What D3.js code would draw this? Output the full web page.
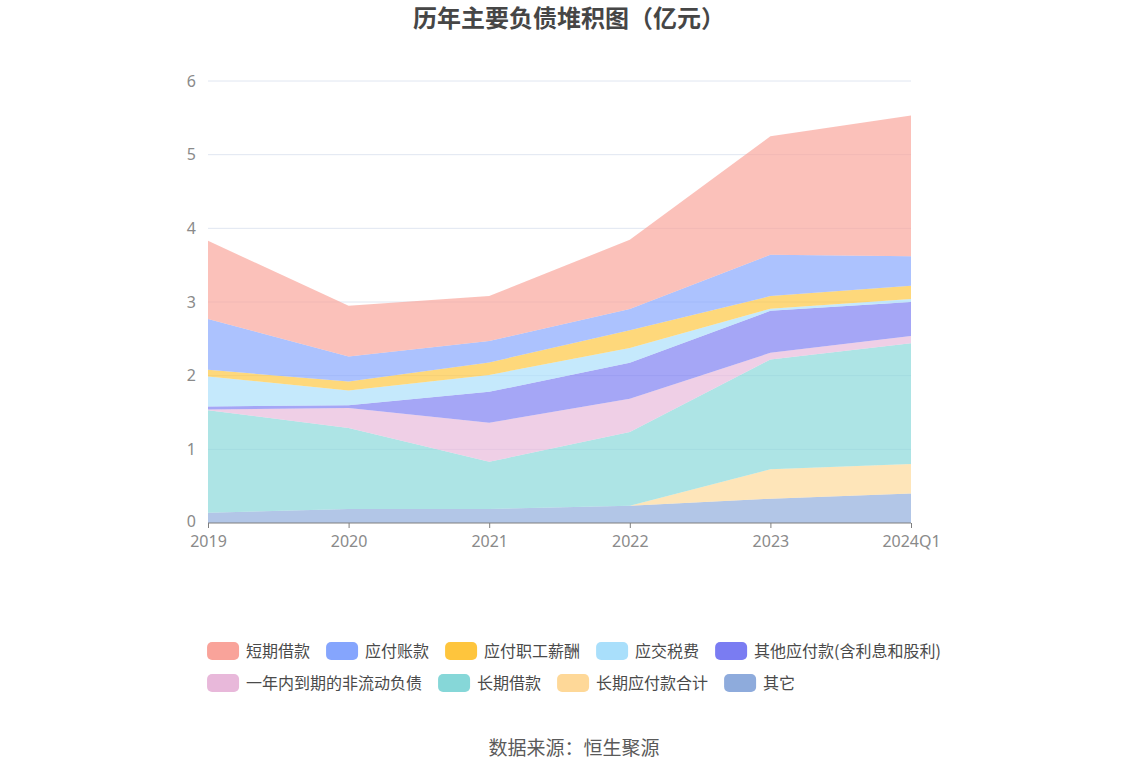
<!DOCTYPE html>
<html><head><meta charset="utf-8">
<script src="https://cdn.jsdelivr.net/npm/d3@7/dist/d3.min.js"></script>
<style>body{margin:0;background:#fff;font-family:"Noto Sans CJK SC","Noto Sans",sans-serif;}</style>
</head><body><svg id="c" width="1148" height="776"></svg>
<script>
const categories = ["2019","2020","2021","2022","2023","2024Q1"];
const seriesNames = ["其它","长期应付款合计","长期借款","一年内到期的非流动负债","其他应付款(含利息和股利)","应交税费","应付职工薪酬","应付账款","短期借款"];
const other        = [0.14, 0.19, 0.19, 0.235, 0.33, 0.40];
const ltPayable    = [0, 0, 0, 0, 0.40, 0.40];
const ltLoan       = [1.39, 1.10, 0.64, 1.00, 1.49, 1.64];
const currentNcl   = [0.01, 0.27, 0.53, 0.45, 0.09, 0.10];
const otherPayable = [0.04, 0.04, 0.42, 0.49, 0.57, 0.46];
const taxPayable   = [0.41, 0.20, 0.23, 0.20, 0.03, 0.04];
const staffPay     = [0.09, 0.12, 0.17, 0.24, 0.17, 0.18];
const acctPayable  = [0.69, 0.34, 0.29, 0.29, 0.56, 0.40];
const stLoan       = [1.06, 0.69, 0.61, 0.94, 1.61, 1.91];
const yTicks = [0,1,2,3,4,5,6];
const legendOrder = ["短期借款","应付账款","应付职工薪酬","应交税费","其他应付款(含利息和股利)","一年内到期的非流动负债","长期借款","长期应付款合计","其它"];
const colors = {"短期借款":"#f9a39a","应付账款":"#85a5fd","应付职工薪酬":"#fec53d","应交税费":"#a9dffb","其他应付款(含利息和股利)":"#7a7cf2","一年内到期的非流动负债":"#e8b8da","长期借款":"#86d7d8","长期应付款合计":"#fed898","其它":"#8eabdc"};

const valuesBySeries = [other, ltPayable, ltLoan, currentNcl, otherPayable, taxPayable, staffPay, acctPayable, stLoan];
const table = categories.map((c,i)=>{const r={cat:c}; seriesNames.forEach((s,j)=>r[s]=valuesBySeries[j][i]); return r;});

const svg = d3.select("#c");
const x = d3.scalePoint().domain(categories).range([208,911]);
const y = d3.scaleLinear().domain([0,6]).range([523,81]);

// grid
svg.append("g").selectAll("line").data(yTicks.filter(d=>d>0)).join("line")
  .attr("x1",208).attr("x2",911).attr("y1",d=>y(d)).attr("y2",d=>y(d))
  .attr("stroke","#e0e6f1").attr("stroke-width",1);

const stack = d3.stack().keys(seriesNames);
const layers = stack(table);
const area = d3.area().x(d=>x(d.data.cat)).y0(d=>y(d[0])).y1(d=>y(d[1]));
svg.append("g").selectAll("path").data(layers).join("path")
  .attr("d",area).attr("fill",d=>colors[d.key]).attr("fill-opacity",0.68);

// y axis labels
const yAxis = d3.axisLeft(y).tickValues(yTicks).tickFormat(d3.format("d")).tickSize(0).tickPadding(12);
const yg = svg.append("g").attr("transform","translate(208,0)").call(yAxis);
yg.select(".domain").remove();
yg.selectAll("text").attr("fill","#8a8a8a").style("font-size","16px").style("font-family","'Noto Sans',sans-serif");
yg.selectAll(".tick").filter(d=>d===0).select("text").attr("dy","0.2em");

// x axis
const xAxis = d3.axisBottom(x).tickSize(5).tickPadding(8);
const xg = svg.append("g").attr("transform","translate(0,523)").call(xAxis);
xg.select(".domain").attr("stroke","#7f7f7f").attr("d","M208,0H911");
xg.selectAll("line").attr("stroke","#7f7f7f");
xg.selectAll("text").attr("fill","#8a8a8a").style("font-size","16px").style("font-family","'Noto Sans',sans-serif");

// title
svg.append("text").attr("x",569).attr("y",27).attr("text-anchor","middle")
  .style("font-size","24px").style("font-weight","bold").attr("fill","#464646").text("历年主要负债堆积图（亿元）");

// legend
const rows = [legendOrder.slice(0,5), legendOrder.slice(5)];
const lg = svg.append("g");
const measure = svg.append("text").style("font-size","16px");
function tw(t){measure.text(t); return measure.node().getComputedTextLength();}
const itemW = t => 32 + 7 + tw(t) + 16;
const row1W = d3.sum(rows[0], itemW) - 16;
const startX = (1148 - row1W)/2;
rows.forEach((row,ri)=>{
  let cx = startX;
  const cy = 651 + ri*32;
  row.forEach(name=>{
    lg.append("rect").attr("x",cx).attr("y",cy-9).attr("width",32).attr("height",18).attr("rx",5)
      .attr("fill",colors[name]);
    lg.append("text").attr("x",cx+39).attr("y",cy).attr("dy","0.35em").style("font-size","16px")
      .attr("fill","#4a4a4a").text(name);
    cx += itemW(name);
  });
});
measure.remove();

svg.append("text").attr("x",574).attr("y",755).attr("text-anchor","middle")
  .style("font-size","19px").attr("fill","#5a5a5a").text("数据来源：恒生聚源");
</script></body></html>
